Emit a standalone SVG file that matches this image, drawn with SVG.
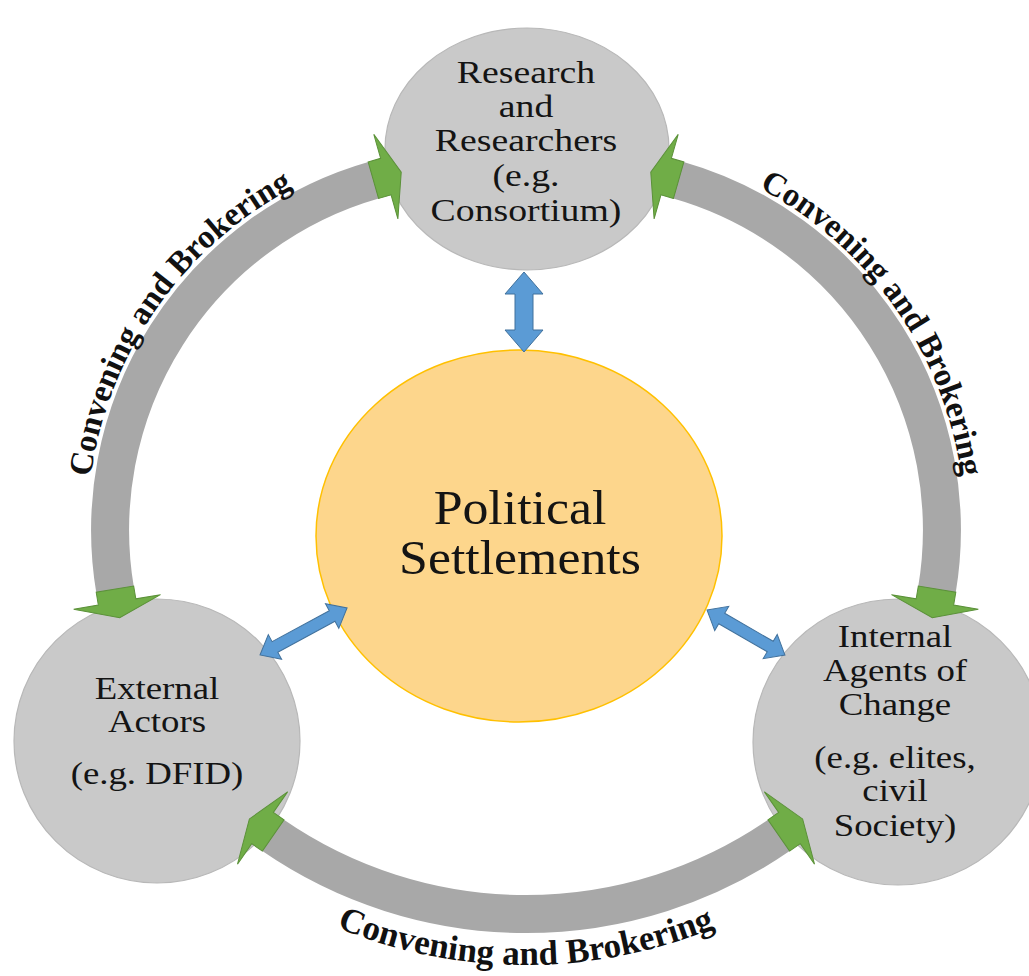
<svg xmlns="http://www.w3.org/2000/svg" xmlns:xlink="http://www.w3.org/1999/xlink" width="1029" height="976" viewBox="0 0 1029 976">
<style>
.node{fill:#C9C9C9;stroke:#B8B8B8;stroke-width:1.2}
.core{fill:#FDD68C;stroke:#FFC000;stroke-width:1.5}
.nt{font-family:"Liberation Serif","Times New Roman",serif;font-size:32px;fill:#141414;text-anchor:middle}
.ct{font-family:"Liberation Serif","Times New Roman",serif;font-size:48px;fill:#141414;text-anchor:middle}
.band{fill:none;stroke:#A8A8A8;stroke-width:38}
.head{fill:#70AD47;stroke:#5B9139;stroke-width:1}
.dbl{fill:#5B9BD5;stroke:#41719C;stroke-width:1}
.lbl{font-family:"Liberation Serif","Times New Roman",serif;font-weight:bold;font-size:33px;fill:#111}
.lblb{font-family:"Liberation Serif","Times New Roman",serif;font-weight:bold;font-size:35px;fill:#111}
</style>
<defs>
<polygon id="ah" points="-1,-19 12,-19 12,-44 28,0 12,44 12,19 -1,19"/>
<path id="pL" d="M 110.3 662.4 A 387 387 0 0 1 474 143"/>
<path id="pR" d="M 578 143 A 387 387 0 0 1 941.7 662.4"/>
<path id="pB" d="M 95.6 716.5 A 497 497 0 0 0 956.4 716.5"/>
</defs>
<rect width="1029" height="976" fill="#FFFFFF"/>

<g id="node-research">
<ellipse class="node" cx="527" cy="149" rx="142" ry="121"/>
<g transform="translate(526,0) scale(1.18,1)">
<text class="nt" x="0" y="83">Research</text>
<text class="nt" x="0" y="117">and</text>
<text class="nt" x="0" y="151">Researchers</text>
<text class="nt" x="0" y="186">(e.g.</text>
<text class="nt" x="0" y="221">Consortium)</text>
</g>
</g>

<g id="node-political">
<ellipse class="core" cx="519" cy="536" rx="203" ry="186"/>
<g transform="translate(520,0) scale(1.08,1)">
<text class="ct" x="0" y="524">Political</text>
<text class="ct" x="0" y="574">Settlements</text>
</g>
</g>

<g id="node-external">
<ellipse class="node" cx="157" cy="741" rx="143" ry="142"/>
<g transform="translate(157,0) scale(1.15,1)">
<text class="nt" x="0" y="699">External</text>
<text class="nt" x="0" y="732">Actors</text>
<text class="nt" x="0" y="784">(e.g. DFID)</text>
</g>
</g>

<g id="node-internal">
<ellipse class="node" cx="898" cy="742" rx="145" ry="143"/>
<g transform="translate(895,0) scale(1.15,1)">
<text class="nt" x="0" y="647">Internal</text>
<text class="nt" x="0" y="681">Agents of</text>
<text class="nt" x="0" y="715">Change</text>
<text class="nt" x="0" y="768">(e.g. elites,</text>
<text class="nt" x="0" y="801">civil</text>
<text class="nt" x="0" y="836">Society)</text>
</g>
</g>

<g id="connectors">
<path class="band" d="M 115.1 590.1 A 364 364 0 0 1 374.3 179.9"/>
<path class="band" d="M 677.7 179.9 A 364 364 0 0 1 936.9 590.1"/>
<path class="band" d="M 272.4 834.9 A 446 446 0 0 0 779.6 834.9"/>
<use href="#ah" class="head" transform="translate(115.1,590.1) rotate(80.5)"/>
<use href="#ah" class="head" transform="translate(374.3,179.9) rotate(-15.9)"/>
<use href="#ah" class="head" transform="translate(677.7,179.9) rotate(-164.1)"/>
<use href="#ah" class="head" transform="translate(936.9,590.1) rotate(99.5)"/>
<use href="#ah" class="head" transform="translate(272.4,834.9) rotate(-145.3)"/>
<use href="#ah" class="head" transform="translate(779.6,834.9) rotate(-34.7)"/>
<polygon class="dbl" points="0,0 22,-19 22,-9 58,-9 58,-19 80,0 58,19 58,9 22,9 22,19" transform="translate(524,272) rotate(90)"/>
<polygon class="dbl" points="0,0 17,-14 17,-6 82,-6 82,-14 99,0 82,14 82,6 17,6 17,14" transform="translate(260,655) rotate(-28.4)"/>
<polygon class="dbl" points="0,0 17,-14 17,-6 73,-6 73,-14 90,0 73,14 73,6 17,6 17,14" transform="translate(707,610) rotate(30)"/>
<text class="lbl"><textPath href="#pL" startOffset="50%" text-anchor="middle">Convening and Brokering</textPath></text>
<text class="lbl"><textPath href="#pR" startOffset="50%" text-anchor="middle">Convening and Brokering</textPath></text>
<text class="lblb"><textPath href="#pB" startOffset="50%" text-anchor="middle">Convening and Brokering</textPath></text>
</g>
</svg>
